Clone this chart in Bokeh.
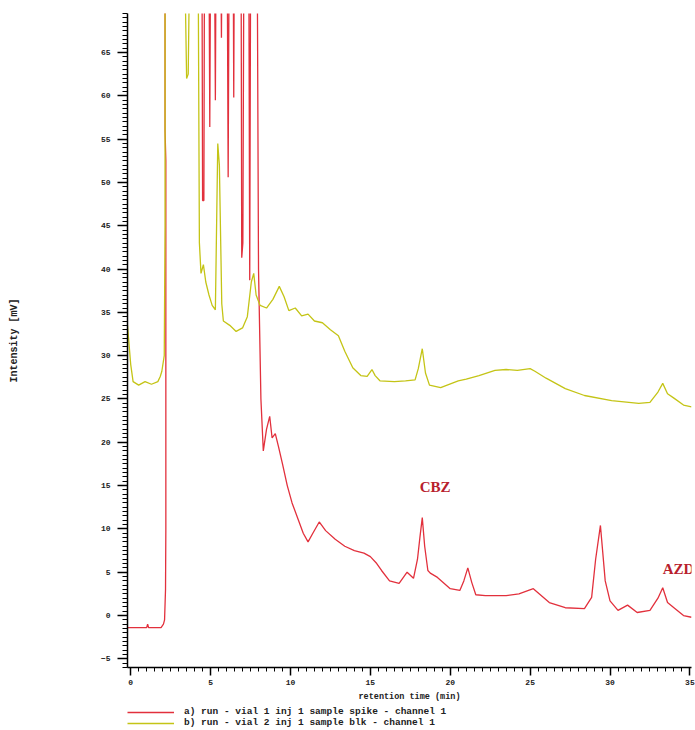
from bokeh.plotting import figure
from bokeh.layouts import column
from bokeh.models import (Range1d, SingleIntervalTicker, Legend, LegendItem,
                          ColumnDataSource)
from bokeh.core.properties import value
from bokeh.embed import file_html
from bokeh.resources import INLINE

# Chromatogram a) spiked sample (red), retention time in min / intensity in mV
time_a = [-0.2, 0.8, 1.0, 1.06, 1.12, 1.9, 2.05, 2.12, 2.18, 2.2, 2.2, 2.15, 2.15,
          4.45, 4.5, 4.58, 4.63,
          4.88, 4.95, 5.02,
          5.22, 5.3, 5.36,
          5.6, 5.68, 5.74,
          6.02, 6.1, 6.18,
          6.4, 6.45, 6.5,
          6.9, 6.95, 7.02, 7.1,
          7.38, 7.45, 7.52,
          7.9, 8.0, 8.15, 8.3, 8.5, 8.7, 8.85, 9.05, 9.25, 9.5, 9.8,
          10.1, 10.5, 10.8, 11.1, 11.4, 11.8, 12.2, 12.8, 13.4, 14.0,
          14.6, 15.0, 15.4, 15.7, 16.2, 16.8, 17.3, 17.7, 17.95, 18.1,
          18.25, 18.4, 18.6, 18.75, 19.2, 20.0, 20.6, 20.85, 21.1, 21.35,
          21.6, 22.2, 23.5, 24.3, 25.2, 26.2, 27.2, 28.4, 28.85, 29.1,
          29.4, 29.7, 30.0, 30.5, 31.1, 31.7, 32.5, 33.0, 33.3, 33.6,
          34.0, 34.6, 35.1]
signal_a = [-1.4, -1.4, -1.4, -1.0, -1.4, -1.4, -1.0, -0.5, 3.0, 10.0, 52.5, 56.0, 85.0,
            85.0, 47.9, 47.9, 85.0,
            85.0, 56.4, 85.0,
            85.0, 59.5, 85.0,
            85.0, 66.7, 85.0,
            85.0, 50.6, 85.0,
            85.0, 59.8, 85.0,
            85.0, 41.3, 43.0, 85.0,
            85.0, 38.7, 85.0,
            85.0, 40.0, 25.0, 19.0, 21.5, 23.0, 20.5, 21.0, 19.5, 17.5, 15.0,
            13.0, 11.0, 9.5, 8.5, 9.5, 10.8, 9.8, 8.8, 8.0, 7.5,
            7.2, 6.8, 6.0, 5.2, 4.0, 3.7, 5.0, 4.3, 6.5, 9.0,
            11.3, 8.0, 5.2, 4.9, 4.4, 3.1, 2.9, 4.0, 5.5, 3.8,
            2.4, 2.3, 2.3, 2.5, 3.1, 1.5, 0.9, 0.8, 2.1, 6.5,
            10.4, 4.0, 1.7, 0.6, 1.2, 0.35, 0.6, 2.0, 3.2, 1.5,
            0.9, 0.0, -0.2]

# Chromatogram b) blank sample (yellow)
time_b = [-0.2, 0.0, 0.15, 0.5, 0.9, 1.3, 1.7, 1.85, 1.95, 2.1, 2.15, 2.15,
          3.3, 3.5, 3.6, 3.75, 4.2, 4.3, 4.4, 4.55, 4.7, 4.9, 5.1, 5.3,
          5.45, 5.55, 5.7, 5.8, 6.2, 6.6, 7.0, 7.3, 7.55, 7.7, 7.85, 8.1,
          8.5, 8.9, 9.3, 9.6, 9.9, 10.3, 10.7, 11.1, 11.5, 12.0, 12.5,
          13.0, 13.4, 13.9, 14.4, 14.8, 15.1, 15.3, 15.6, 16.5, 17.2, 17.8,
          18.0, 18.25, 18.45, 18.7, 19.4, 20.5, 21.0, 21.8, 22.8, 23.5,
          24.2, 25.0, 25.3, 26.0, 27.2, 28.4, 30.1, 31.8, 32.5, 33.0, 33.3,
          33.6, 34.0, 34.6, 35.1]
signal_b = [33.5, 29.0, 27.0, 26.6, 27.0, 26.7, 27.0, 27.6, 28.2, 30.0, 45.0, 85.0,
            85.0, 62.0, 62.5, 85.0, 85.0, 43.0, 39.5, 40.5, 38.5, 37.0, 35.8, 35.3,
            54.5, 52.0, 36.0, 34.0, 33.5, 32.8, 33.2, 34.5, 38.5, 39.5, 37.0, 35.8,
            35.5, 36.5, 38.0, 36.8, 35.2, 35.5, 34.6, 34.8, 34.0, 33.8, 33.0,
            32.3, 30.5, 28.6, 27.7, 27.6, 28.4, 27.7, 27.1, 27.0, 27.1, 27.2,
            28.5, 30.8, 28.0, 26.6, 26.3, 27.1, 27.3, 27.7, 28.3, 28.4,
            28.3, 28.5, 28.2, 27.4, 26.2, 25.4, 24.8, 24.5, 24.6, 25.8, 26.8,
            25.6, 25.1, 24.3, 24.1]

legend_labels = ["a) run - vial 1 inj 1 sample spike - channel 1",
                 "b) run - vial 2 inj 1 sample blk - channel 1"]

peak_names = ["CBZ", "AZD"]
peak_x = [19.05, 33.3]
peak_y = [14.8, 5.4]
peak_align = ["center", "left"]

RED = "#e2303c"
YELLOW = "#c4c416"
MONO = "Liberation Mono"

p = figure(width=695, height=706,
           x_range=Range1d(-0.2, 35.1), y_range=Range1d(-6.0, 69.5),
           output_backend="svg", toolbar_location=None,
           min_border_left=127, min_border_right=4,
           min_border_top=13, min_border_bottom=39)
p.outline_line_color = None
p.xgrid.visible = False
p.ygrid.visible = False
p.background_fill_color = "white"
p.border_fill_color = "white"

# yellow trace is drawn last so it lies over the red one where they meet
p.line(time_a, signal_a, line_color=RED, line_width=1.3)
p.line(time_b, signal_b, line_color=YELLOW, line_width=1.3)

src = ColumnDataSource(dict(x=peak_x, y=peak_y, t=peak_names, a=peak_align))
p.text(x="x", y="y", text="t", text_align="a", source=src,
       text_baseline="middle", text_color="#b8202c",
       text_font=value("Liberation Serif"), text_font_style="bold",
       text_font_size="15px")

# axes
p.xaxis.ticker = SingleIntervalTicker(interval=5, num_minor_ticks=10)
p.yaxis.ticker = SingleIntervalTicker(interval=5, num_minor_ticks=10)
for ax in (p.xaxis[0], p.yaxis[0]):
    ax.axis_line_color = "black"
    ax.axis_line_width = 1.5
    ax.major_tick_line_color = "black"
    ax.major_tick_line_width = 1.5
    ax.minor_tick_line_color = "black"
    ax.minor_tick_line_width = 1
    ax.major_tick_in = 0
    ax.minor_tick_in = 0
    ax.major_label_text_font = MONO
    ax.major_label_text_font_style = "bold"
    ax.major_label_text_font_size = "8px"
    ax.major_label_text_color = "#222222"
    ax.axis_label_text_font = MONO
    ax.axis_label_text_font_style = "bold"
    ax.axis_label_text_color = "#222222"

p.yaxis.major_tick_out = 10
p.yaxis.minor_tick_out = 5
p.yaxis.major_label_standoff = 7
p.yaxis.axis_label = "Intensity [mV]"
p.yaxis.axis_label_text_font_size = "10px"
p.yaxis.axis_label_standoff = 78

p.xaxis.major_tick_out = 8
p.xaxis.minor_tick_out = 4
p.xaxis.major_label_standoff = 4
p.xaxis.axis_label = "retention time (min)"
p.xaxis.axis_label_text_font_size = "8.5px"
p.xaxis.axis_label_standoff = 4

# legend strip under the chart (its frame lines up with the chart frame)
leg = figure(width=695, height=24, output_backend="svg", toolbar_location=None,
             x_range=Range1d(0, 1), y_range=Range1d(0, 1),
             x_axis_type=None, y_axis_type=None, min_border=0)
leg.outline_line_color = None
leg.xgrid.visible = False
leg.ygrid.visible = False
key_a = leg.line([-2, -1], [-2, -1], line_color=RED, line_width=1.3)
key_b = leg.line([-2, -1], [-2, -1], line_color=YELLOW, line_width=1.3)
legend = Legend(items=[LegendItem(label=legend_labels[0], renderers=[key_a]),
                       LegendItem(label=legend_labels[1], renderers=[key_b])],
                location=(0, 2), orientation="vertical",
                glyph_width=47, glyph_height=10, label_height=10,
                label_standoff=10, spacing=0, padding=1, margin=0,
                border_line_color=None, background_fill_alpha=0,
                label_text_font=MONO, label_text_font_style="bold",
                label_text_font_size="9.5px", label_text_color="#222222")
leg.add_layout(legend, "center")

layout = column(p, leg, spacing=0)
open("out.html", "w").write(file_html(layout, INLINE))
